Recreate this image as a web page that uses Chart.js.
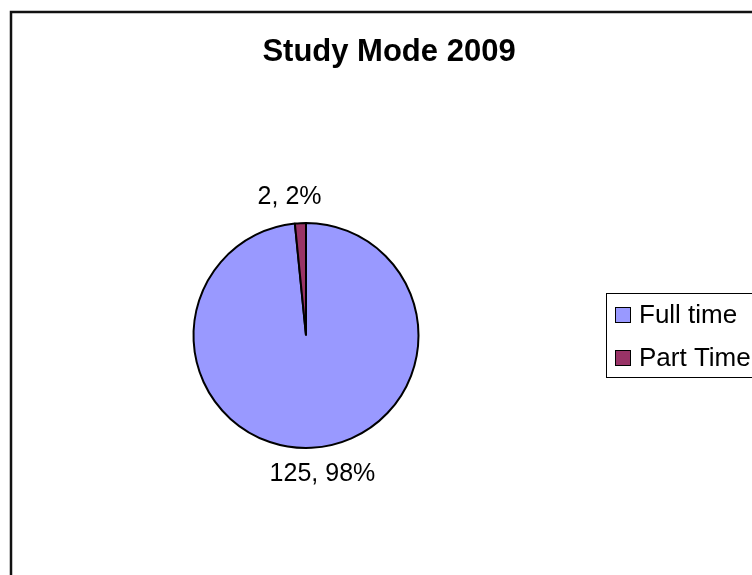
<!DOCTYPE html>
<html>
<head>
<meta charset="utf-8">
<script src="https://cdn.jsdelivr.net/npm/chart.js@4.4.1/dist/chart.umd.min.js"></script>
<style>
  html, body { margin: 0; padding: 0; background: #fff; }
  canvas { display: block; }
</style>
</head>
<body>
<canvas id="studyChart" width="752" height="575"></canvas>
<script>
// Chart data
const chartTitle = 'Study Mode 2009';
const modes = ['Full time', 'Part Time'];
const students = [125, 2];
const sliceColors = ['#9999FF', '#993366'];

// Frame, title, data labels and legend drawn like the old spreadsheet chart
const excelLook = {
  id: 'excelLook',
  beforeDraw(chart) {
    const ctx = chart.ctx;
    ctx.save();
    ctx.fillStyle = '#fff';
    ctx.fillRect(0, 0, chart.width, chart.height);
    ctx.strokeStyle = '#111';
    ctx.lineWidth = 2.5;
    ctx.strokeRect(11, 12, chart.width + 20, chart.height + 20);
    ctx.restore();
  },
  afterDraw(chart) {
    const ctx = chart.ctx;
    const meta = chart.getDatasetMeta(0);
    const total = students.reduce((a, b) => a + b, 0);
    ctx.save();

    // title
    ctx.fillStyle = '#000';
    ctx.textAlign = 'center';
    ctx.textBaseline = 'alphabetic';
    ctx.font = 'bold 31px "Liberation Sans", Arial, sans-serif';
    ctx.fillText(chartTitle, 389, 61);

    // data labels outside each slice (pushed sideways a bit, as excel does)
    ctx.font = '25px "Liberation Sans", Arial, sans-serif';
    ctx.textBaseline = 'middle';
    meta.data.forEach((arc, i) => {
      const mid = (arc.startAngle + arc.endAngle) / 2;
      const r = arc.outerRadius + 26;
      const x = arc.x + Math.cos(mid) * r * 2.4;
      const y = arc.y + Math.sin(mid) * r;
      const pct = Math.round(students[i] / total * 100);
      ctx.fillText(students[i] + ', ' + pct + '%', x, y);
    });

    // legend box
    ctx.lineWidth = 1;
    ctx.strokeStyle = '#000';
    ctx.strokeRect(606.5, 293.5, 200, 84);
    ctx.textAlign = 'left';
    ctx.font = '26px "Liberation Sans", Arial, sans-serif';
    modes.forEach((m, i) => {
      const y = 315 + i * 43;
      ctx.fillStyle = sliceColors[i];
      ctx.fillRect(615.5, y - 7.5, 15, 15);
      ctx.strokeRect(615.5, y - 7.5, 15, 15);
      ctx.fillStyle = '#000';
      ctx.fillText(m, 639, y + 1);
    });
    ctx.restore();
  }
};

new Chart(document.getElementById('studyChart'), {
  type: 'pie',
  data: {
    labels: modes,
    datasets: [{
      data: students,
      backgroundColor: sliceColors,
      borderColor: '#000',
      borderWidth: 2
    }]
  },
  options: {
    responsive: false,
    animation: false,
    devicePixelRatio: 1,
    layout: {
      padding: { left: 192, right: 332, top: 222, bottom: 126 }
    },
    plugins: {
      legend: { display: false },
      title: { display: false },
      tooltip: { enabled: false }
    }
  },
  plugins: [excelLook]
});
</script>
</body>
</html>
